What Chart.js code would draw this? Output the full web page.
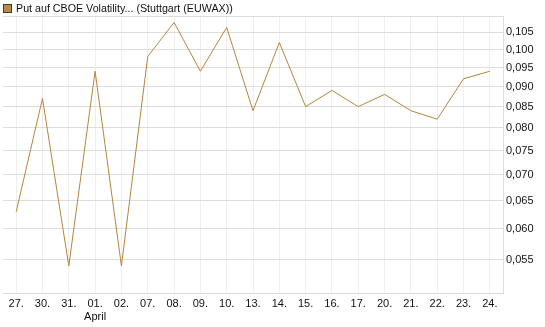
<!DOCTYPE html>
<html>
<head>
<meta charset="utf-8">
<script src="https://cdn.jsdelivr.net/npm/chart.js@4"></script>
<style>
  body { margin: 0; background: #fff; }
  #wrap { position: relative; width: 545px; height: 327px; }
  #legend { position: absolute; left: 3px; top: 2px; font: 10.7px "Liberation Sans", Arial, sans-serif; color: #111; line-height: 13px; }
  #legend span.box { display: inline-block; width: 7px; height: 7px; background: #b88a47; border: 1px solid #4a3a20; margin-right: 4px; vertical-align: -1px; }
</style>
</head>
<body>
<div id="wrap">
  <canvas id="myChart" width="545" height="327"></canvas>
  <div id="legend"><span class="box"></span>Put auf CBOE Volatility... (Stuttgart (EUWAX))</div>
</div>
<script>
const labels = ["27.", "30.", "31.", ["01.", "April"], "02.", "07.", "08.", "09.", "10.", "13.", "14.", "15.", "16.", "17.", "20.", "21.", "22.", "23.", "24."];
const prices = [0.063, 0.087, 0.054, 0.094, 0.054, 0.098, 0.108, 0.094, 0.1065, 0.084, 0.102, 0.085, 0.089, 0.085, 0.088, 0.084, 0.082, 0.092, 0.094];
const yTicks = [0.055, 0.060, 0.065, 0.070, 0.075, 0.080, 0.085, 0.090, 0.095, 0.100, 0.105];
const seriesName = "Put auf CBOE Volatility... (Stuttgart (EUWAX))";

const ctx = document.getElementById("myChart").getContext("2d");
const myChart = new Chart(ctx, {
    type: "line",
    data: {
        labels: labels,
        datasets: [{
            label: seriesName,
            data: prices,
            borderColor: "#b5853b",
            borderWidth: 1,
            pointRadius: 0,
            tension: 0,
            fill: false
        }]
    },
    options: {
        responsive: false,
        animation: false,
        layout: { padding: { top: 16, left: 3, right: 0, bottom: 0 } },
        plugins: { legend: { display: false }, tooltip: { enabled: false } },
        scales: {
            x: {
                offset: true,
                grid: { offset: false, color: "#eeeeee", drawTicks: false },
                border: { color: "#dddddd" },
                ticks: {
                    padding: 4,
                    color: "#111",
                    maxRotation: 0,
                    autoSkip: false,
                    font: { family: "Liberation Sans", size: 11 }
                },
                afterFit: scale => { scale.height = 34; }
            },
            y: {
                type: "logarithmic",
                position: "right",
                min: 0.05,
                max: 0.11,
                grid: { color: "#dddddd", drawTicks: false },
                border: { color: "#dddddd" },
                afterBuildTicks: scale => {
                    scale.ticks = yTicks.map(v => ({ value: v }));
                },
                ticks: {
                    padding: 3,
                    color: "#111",
                    font: { family: "Liberation Sans", size: 11 },
                    callback: v => v.toFixed(3).replace(".", ",")
                },
                afterFit: scale => { scale.width = 42; }
            }
        }
    },
    plugins: [{
        id: "topBorder",
        afterDraw(chart) {
            const a = chart.chartArea;
            const c = chart.ctx;
            c.save();
            c.strokeStyle = "#dddddd";
            c.lineWidth = 1;
            c.beginPath();
            c.moveTo(a.left, a.top + 0.5);
            c.lineTo(a.right, a.top + 0.5);
            c.stroke();
            c.restore();
        }
    }]
});
</script>
</body>
</html>
